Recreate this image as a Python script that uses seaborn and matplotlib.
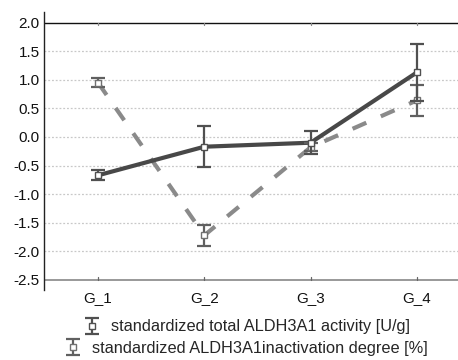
import numpy as np
import pandas as pd
import matplotlib
matplotlib.use("Agg")
import matplotlib.pyplot as plt
import seaborn as sns

groups = ["G_1", "G_2", "G_3", "G_4"]
activity = [-0.67, -0.17, -0.10, 1.13]
activity_err = [0.09, 0.36, 0.20, 0.50]
inactivation = [0.95, -1.72, -0.18, 0.64]
inactivation_err = [0.08, 0.18, 0.07, 0.27]
yticks = [2.0, 1.5, 1.0, 0.5, 0.0, -0.5, -1.0, -1.5, -2.0, -2.5]
labels = ["standardized total ALDH3A1 activity [U/g]",
          "standardized ALDH3A1inactivation degree [%]"]

sns.set_theme(style="white")
plt.rcParams['font.family'] = ['Liberation Sans', 'DejaVu Sans']

fig = plt.figure(figsize=(4.58, 3.6), dpi=100)
ax = fig.add_axes([44/458, 70/360, 1 - 44/458, (290-12)/360])

xpos = np.arange(len(groups))
df = pd.DataFrame({"x": np.concatenate([xpos, xpos]),
                   "y": activity + inactivation,
                   "s": [labels[0]]*4 + [labels[1]]*4})

for ylev in yticks[1:-1]:
    ax.axhline(ylev, color="#c8c8c8", lw=0.9, ls=(0, (1.5, 1.5)), zorder=0)
ax.axhline(2.0, color="#111111", lw=1.0, zorder=1)
ax.axhline(-2.5, color="#888888", lw=1.2, zorder=1)

sns.lineplot(data=df[df.s == labels[0]], x="x", y="y", ax=ax, color="#484848",
             lw=3.0, legend=False, zorder=3)
sns.lineplot(data=df[df.s == labels[1]], x="x", y="y", ax=ax, color="#8a8a8a",
             lw=3.0, legend=False, zorder=2)
ax.lines[-1].set_dashes((3.6, 3.8))

h1 = ax.errorbar(xpos, activity, yerr=activity_err, fmt='s', color="#505050",
                 mfc="white", mec="#505050", ms=4, capsize=5, elinewidth=1.6,
                 capthick=1.6, zorder=5)
h2 = ax.errorbar(xpos, inactivation, yerr=inactivation_err, fmt='s', color="#606060",
                 mfc="white", mec="#707070", ms=4, capsize=5, elinewidth=1.6,
                 capthick=1.6, zorder=4)

ax.set_xlim(-0.508, 3.386)
ax.set_ylim(-2.675, 2.185)
ax.set_xticks(xpos)
ax.set_xticklabels(groups, fontsize=11)
ax.set_yticks(yticks)
ax.set_yticklabels([f"{v:.1f}" for v in yticks], fontsize=11)
ax.set_xlabel("")
ax.set_ylabel("")
for s in ["top", "right", "bottom"]:
    ax.spines[s].set_visible(False)
ax.spines["left"].set_color("#222222")
ax.spines["left"].set_linewidth(1.0)
ax.tick_params(axis="y", length=0, pad=3, colors="#111111")
ax.tick_params(axis="x", length=0, pad=1, colors="#111111")
for xp in xpos:
    ax.plot([xp, xp], [-2.5, -2.44], color="#666666", lw=0.9, zorder=1)
    ax.plot([xp, xp], [2.0, 1.96], color="#888888", lw=0.9, zorder=1)

leg1 = fig.legend([h1], [labels[0]], loc="center", bbox_to_anchor=(247/458, 1 - 327/360),
                  frameon=False, fontsize=11.8, handlelength=0.9, handletextpad=0.7,
                  borderaxespad=0, borderpad=0)
leg2 = fig.legend([h2], [labels[1]], loc="center", bbox_to_anchor=(247/458, 1 - 348/360),
                  frameon=False, fontsize=11.8, handlelength=0.9, handletextpad=0.7,
                  borderaxespad=0, borderpad=0)

fig.savefig("out.png", dpi=100)
